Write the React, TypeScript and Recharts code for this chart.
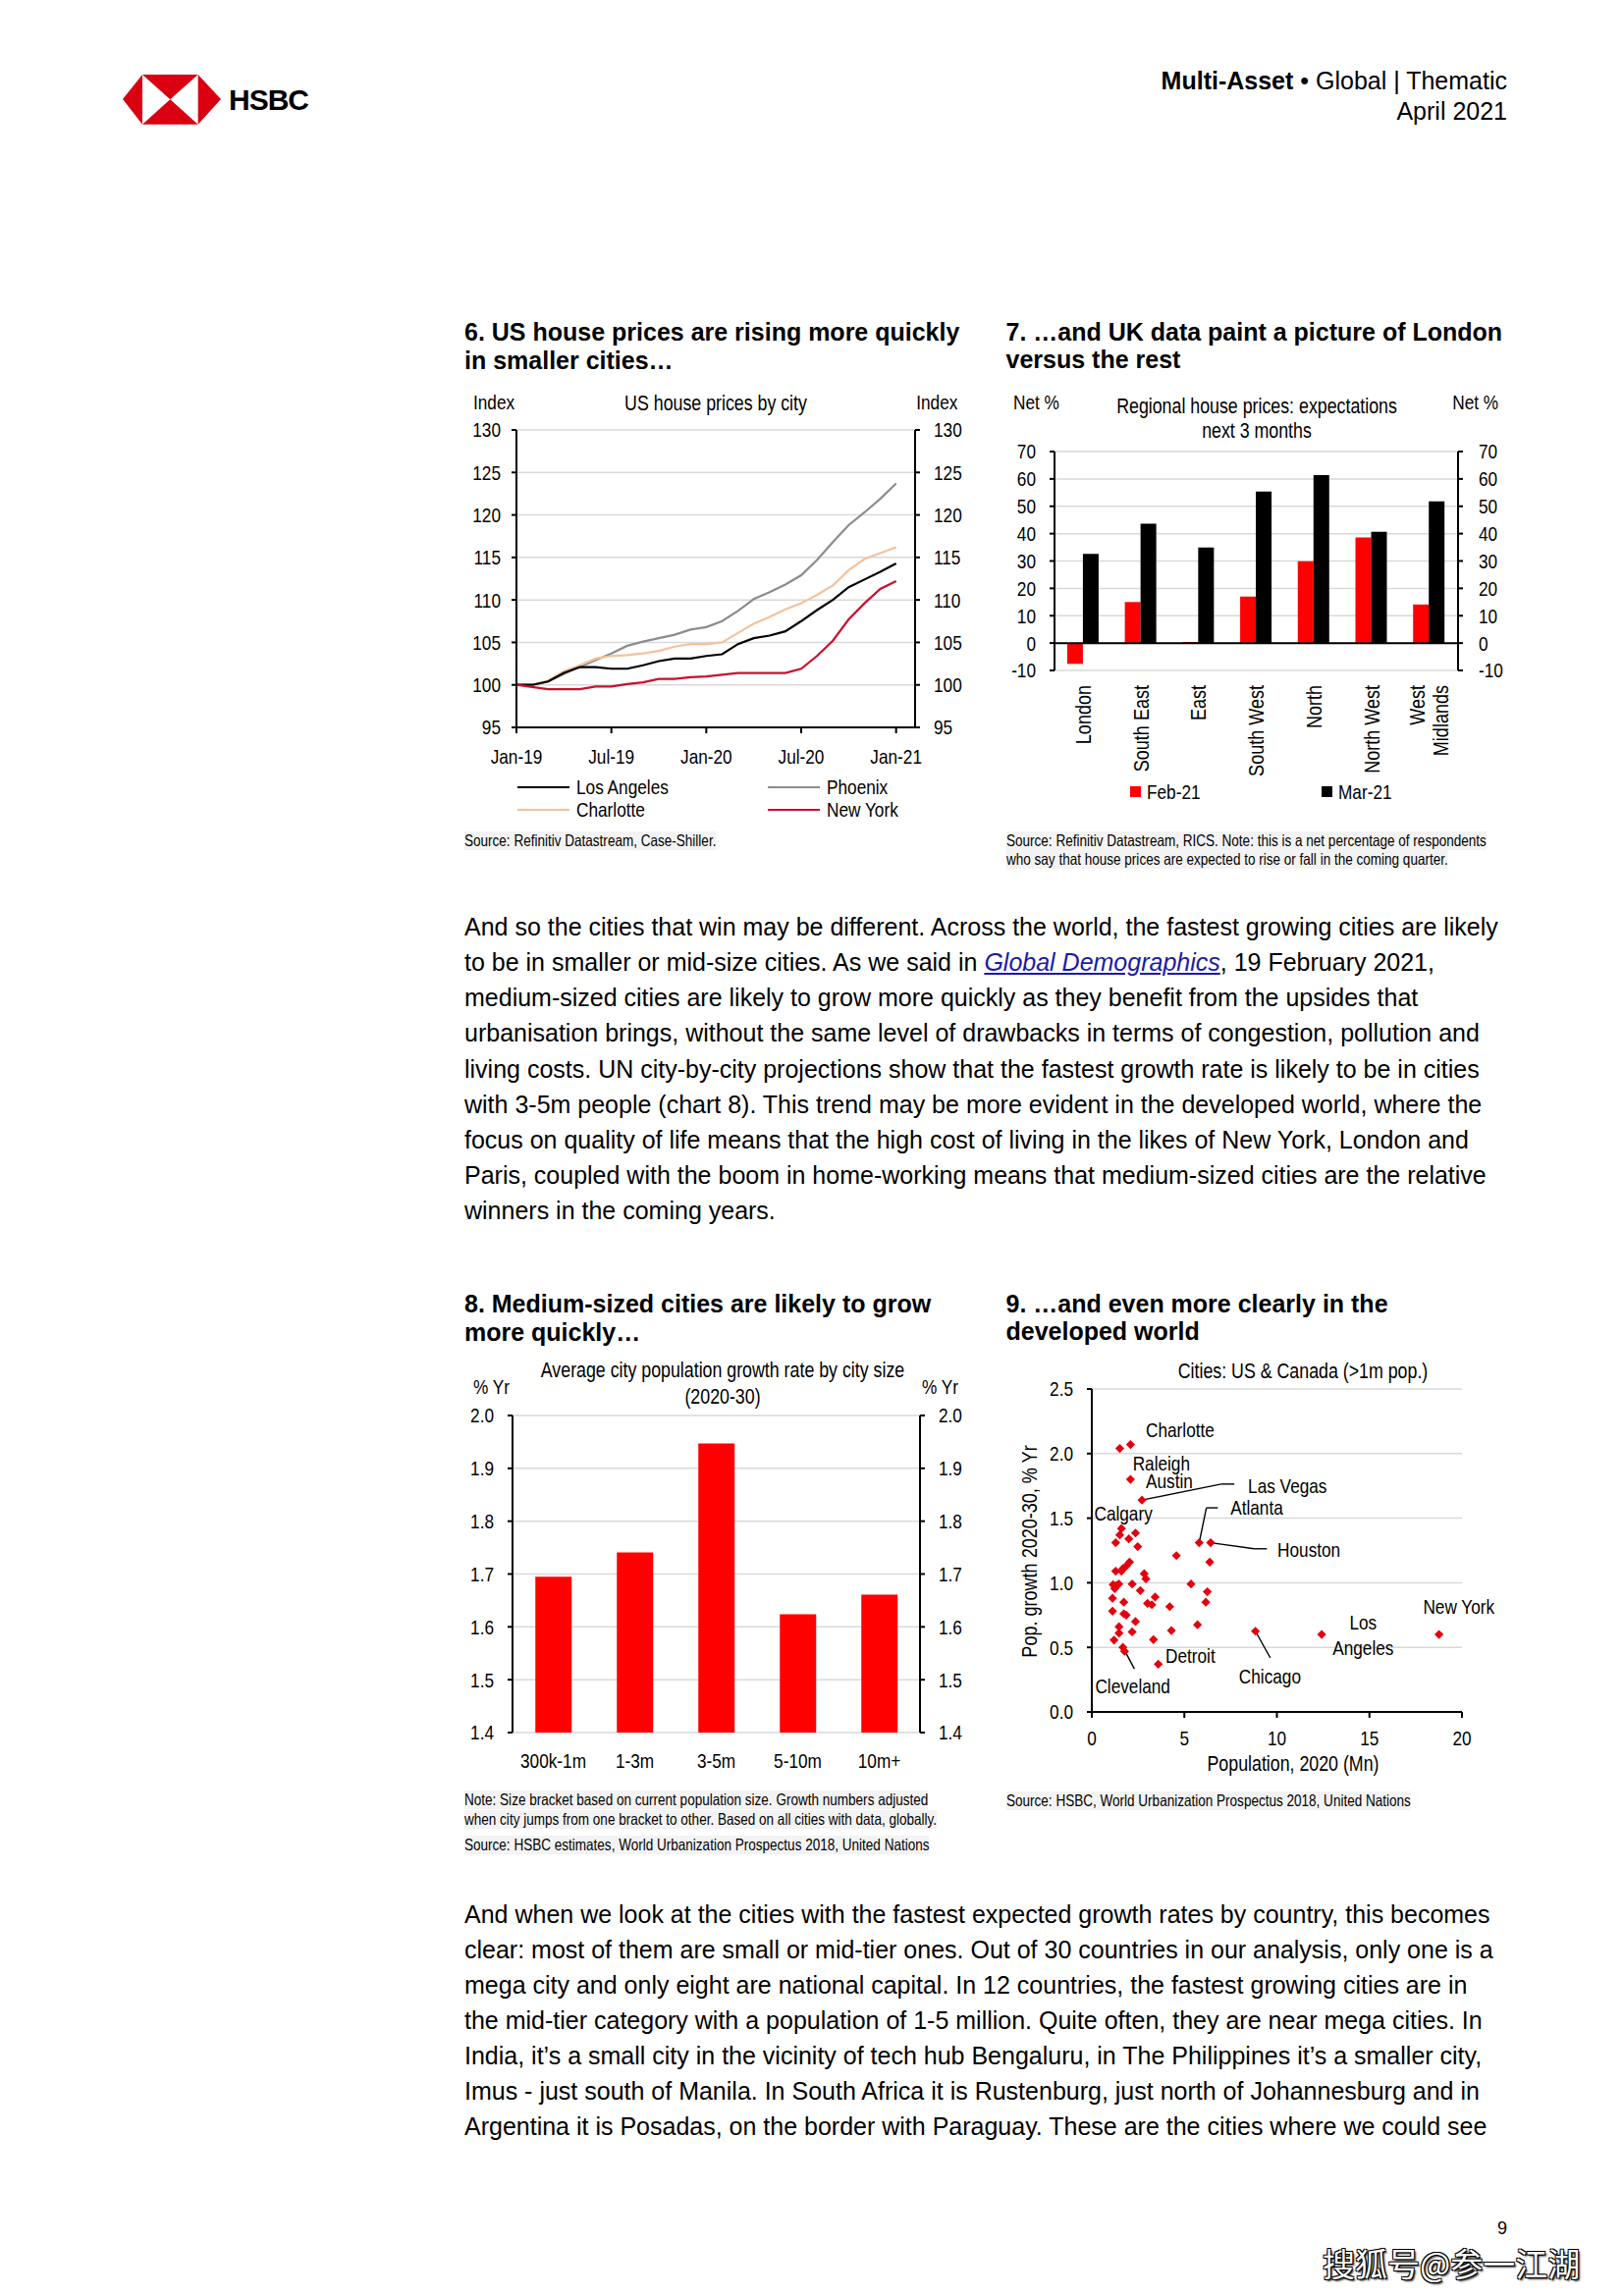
import React from 'react'
import {
  Bar,
  BarChart,
  CartesianGrid,
  Line,
  LineChart,
  ReferenceDot,
  ReferenceLine,
  Scatter,
  ScatterChart,
  XAxis,
  YAxis,
} from 'recharts'

const PAGE_W = 1653
const PAGE_H = 2339
const SANS = "'Liberation Sans', Arial, sans-serif"
// no narrow face installed, so chart text is squeezed horizontally
const SQ = 0.82

// chart 6: US house prices by city (index, Jan-19 = 100)
const months = [
  'Jan-19', 'Feb-19', 'Mar-19', 'Apr-19', 'May-19', 'Jun-19', 'Jul-19', 'Aug-19', 'Sep-19', 'Oct-19', 'Nov-19', 'Dec-19',
  'Jan-20', 'Feb-20', 'Mar-20', 'Apr-20', 'May-20', 'Jun-20', 'Jul-20', 'Aug-20', 'Sep-20', 'Oct-20', 'Nov-20', 'Dec-20',
  'Jan-21',
]
const monthTicks = [0, 6, 12, 18, 24]
const priceTicks = [95, 100, 105, 110, 115, 120, 125, 130]
const losAngeles = [100, 100, 100.4, 101.4, 102.1, 102.1, 101.9, 101.9, 102.3, 102.8, 103.1, 103.1, 103.4, 103.6, 104.8, 105.5, 105.8, 106.3, 107.5, 108.8, 110.0, 111.5, 112.4, 113.3, 114.3]
const phoenix = [100, 100, 100.4, 101.3, 102.1, 102.9, 103.7, 104.6, 105.1, 105.5, 105.9, 106.5, 106.8, 107.5, 108.7, 110.1, 110.9, 111.8, 112.9, 114.7, 116.8, 118.8, 120.3, 121.9, 123.7]
const charlotte = [100, 100, 100.5, 101.6, 102.3, 103.1, 103.4, 103.5, 103.7, 104.0, 104.5, 104.8, 104.8, 105.0, 106.1, 107.2, 108.0, 108.9, 109.6, 110.6, 111.7, 113.5, 114.8, 115.5, 116.2]
const newYork = [100, 99.75, 99.5, 99.5, 99.5, 99.8, 99.8, 100.1, 100.3, 100.7, 100.7, 100.9, 101.0, 101.2, 101.4, 101.4, 101.4, 101.4, 101.9, 103.4, 105.2, 107.7, 109.6, 111.3, 112.2]

// chart 7: UK regional house price expectations, net %
const regions = ['London', 'South East', 'East', 'South West', 'North', 'North West', 'West\nMidlands']
const feb21 = [-7.6, 15, 0.4, 17, 29.9, 38.6, 14.1]
const mar21 = [32.6, 43.6, 34.9, 55.4, 61.4, 40.7, 51.8]
const netTicks = [-10, 0, 10, 20, 30, 40, 50, 60, 70]

// chart 8: average city population growth by city size, % yr
const sizeBrackets = ['300k-1m', '1-3m', '3-5m', '5-10m', '10m+']
const growthBySize = [1.695, 1.741, 1.947, 1.624, 1.661]
const growthTicks = [1.4, 1.5, 1.6, 1.7, 1.8, 1.9, 2.0]

// chart 9: US & Canada cities >1m, [population 2020 (mn), growth 2020-30 % yr]
const usCanadaCities = [
  [1.51, 2.04], [2.09, 2.07], [2.09, 1.8], [2.71, 1.64],
  [1.6, 1.42], [1.51, 1.37], [1.29, 1.31], [2.0, 1.34], [2.36, 1.385], [2.48, 1.28],
  [4.57, 1.21], [5.8, 1.31], [6.42, 1.31], [6.37, 1.16],
  [2.04, 1.16], [1.86, 1.13], [1.68, 1.11], [1.29, 1.09], [1.6, 1.09],
  [2.83, 1.07], [2.92, 1.03], [2.18, 0.99],
  [1.15, 0.985], [1.33, 0.98], [1.46, 0.99], [1.24, 0.955],
  [5.36, 0.99], [2.62, 0.94], [6.24, 0.93],
  [1.12, 0.88], [1.73, 0.85], [3.42, 0.89], [3.01, 0.84], [3.24, 0.83], [6.16, 0.85], [4.21, 0.815],
  [1.12, 0.78], [1.73, 0.76], [1.86, 0.75], [2.36, 0.7], [5.71, 0.675],
  [1.47, 0.66], [1.47, 0.61], [2.18, 0.62], [4.3, 0.63],
  [1.2, 0.556], [3.33, 0.56], [1.68, 0.5], [1.77, 0.47], [3.59, 0.37],
  [8.84, 0.625], [12.42, 0.6], [18.76, 0.6],
]
const popTicks = [0, 5, 10, 15, 20]
const popGrowthTicks = [0, 0.5, 1, 1.5, 2, 2.5]

// city labels and leader lines in chart 9 (data units)
const cityNotes = [
  { text: 'Charlotte', x: 2.92, y: 2.18, anchor: 'start' },
  { text: 'Raleigh', x: 2.21, y: 1.924, anchor: 'start' },
  { text: 'Austin', x: 2.92, y: 1.79, anchor: 'start' },
  { text: 'Las Vegas', x: 8.44, y: 1.75, anchor: 'start' },
  { text: 'Atlanta', x: 7.49, y: 1.58, anchor: 'start' },
  { text: 'Calgary', x: 0.13, y: 1.536, anchor: 'start' },
  { text: 'Houston', x: 10.03, y: 1.258, anchor: 'start' },
  { text: 'New York', x: 17.9, y: 0.817, anchor: 'start' },
  { text: 'Los', x: 14.66, y: 0.693, anchor: 'middle' },
  { text: 'Angeles', x: 14.66, y: 0.493, anchor: 'middle' },
  { text: 'Detroit', x: 3.98, y: 0.435, anchor: 'start' },
  { text: 'Chicago', x: 7.95, y: 0.28, anchor: 'start' },
  { text: 'Cleveland', x: 0.18, y: 0.198, anchor: 'start' },
]
const leaders = [
  [[2.71, 1.64], [6.99, 1.764], [7.7, 1.764]],
  [[5.8, 1.31], [6.19, 1.58], [6.81, 1.58]],
  [[6.42, 1.31], [8.76, 1.263], [9.46, 1.263]],
  [[8.84, 0.625], [9.64, 0.42]],
  [[1.68, 0.5], [2.3, 0.334]],
]

const para1 = [
  'And so the cities that win may be different. Across the world, the fastest growing cities are likely',
  'LINK',
  'medium-sized cities are likely to grow more quickly as they benefit from the upsides that',
  'urbanisation brings, without the same level of drawbacks in terms of congestion, pollution and',
  'living costs. UN city-by-city projections show that the fastest growth rate is likely to be in cities',
  'with 3-5m people (chart 8). This trend may be more evident in the developed world, where the',
  'focus on quality of life means that the high cost of living in the likes of New York, London and',
  'Paris, coupled with the boom in home-working means that medium-sized cities are the relative',
  'winners in the coming years.',
]
const para2 = [
  'And when we look at the cities with the fastest expected growth rates by country, this becomes',
  'clear: most of them are small or mid-tier ones. Out of 30 countries in our analysis, only one is a',
  'mega city and only eight are national capital. In 12 countries, the fastest growing cities are in',
  'the mid-tier category with a population of 1-5 million. Quite often, they are near mega cities. In',
  'India, it\u2019s a small city in the vicinity of tech hub Bengaluru, in The Philippines it\u2019s a smaller city,',
  'Imus - just south of Manila. In South Africa it is Rustenburg, just north of Johannesburg and in',
  'Argentina it is Posadas, on the border with Paraguay. These are the cities where we could see',
]

const lineRows = months.map((m, i) => ({
  i, month: m, la: losAngeles[i], phx: phoenix[i], clt: charlotte[i], ny: newYork[i],
}))
const regionRows = regions.map((r, i) => ({ region: r, feb: feb21[i], mar: mar21[i] }))
const sizeRows = sizeBrackets.map((s, i) => ({ size: s, growth: growthBySize[i] }))
const cityRows = usCanadaCities.map(([pop, growth]) => ({ pop, growth }))

const AXIS = { stroke: '#000', strokeWidth: 2 }
const fmt1 = (v: number) => v.toFixed(1)

type TxtProps = {
  x: number
  y: number
  size?: number
  align?: 'left' | 'right' | 'center'
  bold?: boolean
  sx?: number
  font?: string
  style?: React.CSSProperties
  children: React.ReactNode
}

function Txt({ x, y, size = 21, align = 'left', bold, sx = 1, font = SANS, style, children }: TxtProps) {
  const lh = Math.round(size * 1.15)
  const s: React.CSSProperties = {
    position: 'absolute', top: y - lh / 2, lineHeight: `${lh}px`, fontSize: size, fontFamily: font,
    fontWeight: bold ? 700 : 400, whiteSpace: 'nowrap', color: '#000',
  }
  const squeeze = sx !== 1 ? ` scaleX(${sx})` : ''
  if (align === 'left') { s.left = x; s.transformOrigin = 'left center'; if (squeeze) s.transform = squeeze }
  else if (align === 'right') { s.right = PAGE_W - x; s.transformOrigin = 'right center'; if (squeeze) s.transform = squeeze }
  else { s.left = x; s.transform = 'translateX(-50%)' + squeeze }
  return <div style={{ ...s, ...style }}>{children}</div>
}

// chart text (narrow look)
const CTxt = (p: TxtProps) => <Txt sx={SQ} {...p} />

const Source = ({ x, y, children }: { x: number; y: number; children: React.ReactNode }) => (
  <CTxt x={x} y={y} size={16.5} style={{ background: '#f3f3f3' }}>{children}</CTxt>
)

function LegendLine({ x, y, color, label }: { x: number; y: number; color: string; label: string }) {
  return (
    <>
      <div style={{ position: 'absolute', left: x, top: y - 1, width: 53, height: 2.2, background: color }} />
      <CTxt x={x + 60} y={y}>{label}</CTxt>
    </>
  )
}

function NarrowTick(props: any) {
  const { x, y, payload, anchor = 'middle', dy = '0.355em', fmt } = props
  const v = fmt ? fmt(payload.value) : payload.value
  return (
    <text transform={`translate(${x},${y}) scale(${SQ},1)`} textAnchor={anchor} dy={dy} fontSize={21} fill="#000">
      {v}
    </text>
  )
}

function HsbcLogo() {
  return (
    <svg style={{ position: 'absolute', left: 0, top: 0 }} width={340} height={140}>
      <polygon points="125,101 145,76 145,126.7" fill="#db0011" />
      <polygon points="201.7,76 225,101 201.7,126.7" fill="#db0011" />
      <polygon points="145,76 201.7,76 173.3,101.3" fill="#db0011" />
      <polygon points="145,126.7 201.7,126.7 173.3,101.3" fill="#db0011" />
      <text x={233} y={112} fontSize={30} fontWeight={700} letterSpacing={-1} fontFamily={SANS} fill="#000">HSBC</text>
    </svg>
  )
}

function UsHousePrices() {
  return (
    <div style={{ position: 'absolute', left: 460, top: 420, fontFamily: SANS }}>
      <LineChart width={532} height={361} data={lineRows} margin={{ top: 18, right: 0, bottom: 0, left: 0 }}>
        <CartesianGrid vertical={false} stroke="#d9d9d9" strokeWidth={1.5} />
        <XAxis dataKey="i" type="number" domain={[0, 25.2]} allowDataOverflow ticks={monthTicks} interval={0}
          axisLine={AXIS} tickLine={AXIS} tickSize={6} tickMargin={16} height={40}
          tick={<NarrowTick dy="0.71em" fmt={(v: number) => months[v]} />} />
        <YAxis domain={[95, 130]} allowDataOverflow ticks={priceTicks} interval={0} width={66}
          axisLine={AXIS} tickLine={AXIS} tickSize={5} tickMargin={11} tick={<NarrowTick anchor="end" />} />
        <YAxis yAxisId="r" orientation="right" domain={[95, 130]} allowDataOverflow ticks={priceTicks} interval={0}
          width={60} axisLine={AXIS} tickLine={AXIS} tickSize={5} tickMargin={14} tick={<NarrowTick anchor="start" />} />
        <Line dataKey="phx" stroke="#8c8c8c" strokeWidth={2.2} dot={false} isAnimationActive={false} />
        <Line dataKey="clt" stroke="#f4c29c" strokeWidth={2.2} dot={false} isAnimationActive={false} />
        <Line dataKey="la" stroke="#000000" strokeWidth={2.2} dot={false} isAnimationActive={false} />
        <Line dataKey="ny" stroke="#c8102e" strokeWidth={2.2} dot={false} isAnimationActive={false} />
      </LineChart>
    </div>
  )
}

const EmptyTick = () => <g />

function RegionTick({ x, y, payload }: any) {
  const lines = String(payload.value).split('\n')
  return (
    <g transform={`translate(${x},${y}) rotate(-90) scale(${SQ},1)`}>
      <text textAnchor="end" fontSize={22} fill="#000">
        {lines.map((ln, k) => (
          <tspan key={k} x={-15 / SQ} y={(k - (lines.length - 1) / 2) * 24} dy="0.35em">{ln}</tspan>
        ))}
      </text>
    </g>
  )
}

function UkRegions() {
  return (
    <div style={{ position: 'absolute', left: 1010, top: 440, fontFamily: SANS }}>
      <BarChart width={535} height={363} data={regionRows} margin={{ top: 20, right: 0, bottom: 0, left: 0 }}
        barCategoryGap="22%" barGap={0}>
        <CartesianGrid xAxisId="cat" vertical={false} stroke="#d9d9d9" strokeWidth={1.5} />
        <XAxis xAxisId="edges" type="number" domain={[0, regions.length]} allowDataOverflow
          ticks={regions.map((_, i) => i).concat(regions.length)} interval={0} height={0}
          axisLine={AXIS} tickLine={AXIS} tickSize={6} tick={EmptyTick} />
        <XAxis xAxisId="cat" dataKey="region" interval={0} height={120} axisLine={false} tickLine={false}
          tickSize={0} tickMargin={0} tick={<RegionTick />} />
        <YAxis domain={[-10, 70]} allowDataOverflow ticks={netTicks} interval={0} width={64}
          axisLine={AXIS} tickLine={AXIS} tickSize={5} tickMargin={14} tick={<NarrowTick anchor="end" />} />
        <YAxis yAxisId="r" orientation="right" domain={[-10, 70]} allowDataOverflow ticks={netTicks} interval={0}
          width={60} axisLine={AXIS} tickLine={AXIS} tickSize={5} tickMargin={16} tick={<NarrowTick anchor="start" />} />
        <ReferenceLine xAxisId="cat" y={0} stroke="#000" strokeWidth={2} />
        <Bar xAxisId="cat" dataKey="feb" fill="#ff0000" isAnimationActive={false} />
        <Bar xAxisId="cat" dataKey="mar" fill="#000000" isAnimationActive={false} />
      </BarChart>
    </div>
  )
}

function CitySizeGrowth() {
  return (
    <div style={{ position: 'absolute', left: 460, top: 1420, fontFamily: SANS }}>
      <BarChart width={537} height={395} data={sizeRows} margin={{ top: 22, right: 0, bottom: 0, left: 0 }}
        barCategoryGap="28%">
        <CartesianGrid xAxisId="cat" vertical={false} stroke="#d9d9d9" strokeWidth={1.5} />
        <XAxis xAxisId="edges" type="number" domain={[0, sizeBrackets.length]} allowDataOverflow
          ticks={sizeBrackets.map((_, i) => i).concat(sizeBrackets.length)} interval={0} height={0}
          axisLine={AXIS} tickLine={AXIS} tickSize={6} tick={EmptyTick} />
        <XAxis xAxisId="cat" dataKey="size" interval={0} height={50} axisLine={false} tickLine={false}
          tickSize={0} tickMargin={21} tick={<NarrowTick dy="0.71em" />} />
        <YAxis domain={[1.4, 2.0]} allowDataOverflow ticks={growthTicks} interval={0} width={62}
          axisLine={AXIS} tickLine={AXIS} tickSize={5} tickMargin={14} tick={<NarrowTick anchor="end" fmt={fmt1} />} />
        <YAxis yAxisId="r" orientation="right" domain={[1.4, 2.0]} allowDataOverflow ticks={growthTicks} interval={0}
          width={60} axisLine={AXIS} tickLine={AXIS} tickSize={5} tickMargin={14}
          tick={<NarrowTick anchor="start" fmt={fmt1} />} />
        <Bar xAxisId="cat" dataKey="growth" fill="#ff0000" isAnimationActive={false} />
      </BarChart>
    </div>
  )
}

const Diamond = (p: any) => {
  const { cx, cy } = p
  const r = 4.6
  return <polygon points={`${cx},${cy - r} ${cx + r},${cy} ${cx},${cy + r} ${cx - r},${cy}`} fill="#e3000f" />
}

function CityScatter() {
  return (
    <div style={{ position: 'absolute', left: 1010, top: 1395, fontFamily: SANS }}>
      <ScatterChart width={524} height={389} margin={{ top: 20, right: 45, bottom: 0, left: 0 }}>
        <CartesianGrid vertical={false} stroke="#d9d9d9" strokeWidth={1.5} />
        <XAxis dataKey="pop" type="number" domain={[0, 20]} allowDataOverflow ticks={popTicks} interval={0}
          axisLine={AXIS} tickLine={AXIS} tickSize={6} tickMargin={13} height={40} tick={<NarrowTick dy="0.71em" />} />
        <YAxis dataKey="growth" type="number" domain={[0, 2.5]} allowDataOverflow ticks={popGrowthTicks} interval={0}
          width={102} axisLine={AXIS} tickLine={AXIS} tickSize={5} tickMargin={14}
          tick={<NarrowTick anchor="end" fmt={fmt1} />} />
        <Scatter data={cityRows} shape={Diamond} isAnimationActive={false} />
        {leaders.flatMap((pts, li) =>
          pts.slice(1).map((pt, k) => (
            <ReferenceLine key={`${li}-${k}`} ifOverflow="visible" stroke="#000" strokeWidth={1.4}
              segment={[{ x: pts[k][0], y: pts[k][1] }, { x: pt[0], y: pt[1] }]} />
          )),
        )}
        {cityNotes.map((n) => (
          <ReferenceDot key={n.text} x={n.x} y={n.y} r={0} ifOverflow="visible"
            shape={(p: any) => (
              <text transform={`translate(${p.cx},${p.cy}) scale(${SQ},1)`} dy="0.35em" textAnchor={n.anchor}
                fontSize={21} fill="#000">{n.text}</text>
            )} />
        ))}
      </ScatterChart>
    </div>
  )
}

export default function App() {
  const lineStep = 36.15
  return (
    <div style={{ position: 'absolute', left: 0, top: 0, width: PAGE_W, height: PAGE_H, background: '#fff', overflow: 'hidden', fontFamily: SANS }}>
      <HsbcLogo />
      <Txt x={1535} y={82} size={25} align="right">
        <b>Multi-Asset</b> {'\u2022'} Global | Thematic
      </Txt>
      <Txt x={1535} y={113} size={25} align="right">April 2021</Txt>

      {/* chart 6 */}
      <Txt x={473} y={338.6} size={25} bold>6. US house prices are rising more quickly</Txt>
      <Txt x={473} y={367} size={25} bold>in smaller cities…</Txt>
      <CTxt x={482} y={410}>Index</CTxt>
      <CTxt x={728.6} y={410} size={21.7} align="center">US house prices by city</CTxt>
      <CTxt x={975} y={410} align="right">Index</CTxt>
      <UsHousePrices />
      <LegendLine x={527} y={802} color="#000000" label="Los Angeles" />
      <LegendLine x={782} y={802} color="#8c8c8c" label="Phoenix" />
      <LegendLine x={527} y={825} color="#f4c29c" label="Charlotte" />
      <LegendLine x={782} y={825} color="#c8102e" label="New York" />
      <Source x={473} y={856}>Source: Refinitiv Datastream, Case-Shiller.</Source>

      {/* chart 7 */}
      <Txt x={1024.5} y={338} size={25} bold>7. …and UK data paint a picture of London</Txt>
      <Txt x={1024.5} y={366} size={25} bold>versus the rest</Txt>
      <CTxt x={1032} y={409.7}>Net %</CTxt>
      <CTxt x={1280} y={413.5} size={21.7} align="center">Regional house prices: expectations</CTxt>
      <CTxt x={1280} y={438} size={21.7} align="center">next 3 months</CTxt>
      <CTxt x={1526.5} y={409.7} align="right">Net %</CTxt>
      <UkRegions />
      <div style={{ position: 'absolute', left: 1150.5, top: 801, width: 11, height: 11, background: '#ff0000' }} />
      <CTxt x={1167.7} y={806.6}>Feb-21</CTxt>
      <div style={{ position: 'absolute', left: 1345.7, top: 801, width: 11, height: 11, background: '#000' }} />
      <CTxt x={1363} y={806.6}>Mar-21</CTxt>
      <Source x={1024.5} y={856}>Source: Refinitiv Datastream, RICS. Note: this is a net percentage of respondents</Source>
      <Source x={1024.5} y={875.5}>who say that house prices are expected to rise or fall in the coming quarter.</Source>

      {/* body text 1 */}
      {para1.map((ln, i) => (
        <Txt key={i} x={473} y={944.4 + i * lineStep} size={25}>
          {ln === 'LINK' ? (
            <>to be in smaller or mid-size cities. As we said in{' '}
              <span style={{ color: '#1a1aa8', fontStyle: 'italic', textDecoration: 'underline' }}>Global Demographics</span>
              , 19 February 2021,</>
          ) : ln}
        </Txt>
      ))}

      {/* chart 8 */}
      <Txt x={473} y={1328.7} size={25} bold>8. Medium-sized cities are likely to grow</Txt>
      <Txt x={473} y={1357.4} size={25} bold>more quickly…</Txt>
      <CTxt x={735.5} y={1395.7} size={21.7} align="center">Average city  population  growth rate by city  size</CTxt>
      <CTxt x={735.5} y={1422.5} size={21.7} align="center">(2020-30)</CTxt>
      <CTxt x={482.4} y={1412.9}>% Yr</CTxt>
      <CTxt x={938.6} y={1412.9}>% Yr</CTxt>
      <CitySizeGrowth />
      <Source x={473} y={1833.9}>Note: Size bracket based on current population size. Growth numbers adjusted</Source>
      <Source x={473} y={1853}>when city jumps from one bracket to other. Based on all cities with data, globally.</Source>
      <Source x={473} y={1879.8}>Source: HSBC estimates, World Urbanization Prospectus 2018, United Nations</Source>

      {/* chart 9 */}
      <Txt x={1024.5} y={1328.6} size={25} bold>9. …and even more clearly in the</Txt>
      <Txt x={1024.5} y={1356.4} size={25} bold>developed world</Txt>
      <CTxt x={1326.8} y={1396.4} size={21.7} align="center">Cities: US &amp; Canada (&gt;1m pop.)</CTxt>
      <CityScatter />
      <Txt x={1047.9} y={1580.4} size={22} align="center" style={{ transform: `translateX(-50%) rotate(-90deg) scaleX(${SQ})` }}>
        Pop. growth 2020-30, % Yr
      </Txt>
      <CTxt x={1316.5} y={1796.4} size={21.7} align="center">Population,  2020 (Mn)</CTxt>
      <Source x={1024.5} y={1834}>Source: HSBC, World Urbanization Prospectus 2018, United Nations</Source>

      {/* body text 2 */}
      {para2.map((ln, i) => (
        <Txt key={i} x={473} y={1950 + i * 36.0} size={25}>{ln}</Txt>
      ))}

      <Txt x={1530} y={2270} size={18} align="center">9</Txt>
      <Txt x={1347} y={2305} size={33} font="'Noto Sans CJK SC', sans-serif"
        style={{ color: '#fff', textShadow: '1px 1px 0 #000, -1px -1px 0 #000, 1px -1px 0 #000, -1px 1px 0 #000, 2px 2px 2px #333' }}>
        搜狐号@参一江湖
      </Txt>
    </div>
  )
}
